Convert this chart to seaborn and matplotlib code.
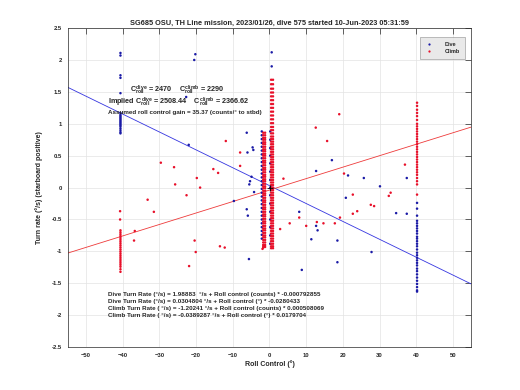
import numpy as np
import pandas as pd
import matplotlib
matplotlib.use("Agg")
import matplotlib.pyplot as plt
import seaborn as sns

sns.set_theme(style="white")
plt.rcParams['font.family'] = ['Liberation Sans', 'DejaVu Sans']
plt.rcParams['mathtext.fontset'] = 'custom'
plt.rcParams['mathtext.rm'] = 'Liberation Sans:bold'
plt.rcParams['mathtext.it'] = 'Liberation Sans:bold'
plt.rcParams['mathtext.bf'] = 'Liberation Sans:bold'

# ---------------- data ----------------
dive_x = [-20.2, -20.5, -22.7, -22.0, 0.6, 0.6, -6.2, -4.6, -4.4, -6.0, -4.9, -5.3, -5.5, -4.2,
          12.7, -9.7, -6.2, -5.9, -5.6, 8.1, 8.8, 12.7, 13.1, 11.4,
          17.0, 21.4, 25.7, 30.1, 37.4, 20.8, 34.5, 37.4, 18.5, 18.5, 27.8]
dive_y = [2.09, 2.00, 1.42, 0.67, 2.12, 1.90, 0.86, 0.63, 0.59, 0.55, 0.17, 0.10, 0.05, -0.07,
          0.26, -0.21, -0.34, -0.44, -1.12, -0.38, -1.29, -0.60, -0.67, -0.81,
          0.43, 0.19, 0.15, 0.02, 0.15, -0.16, -0.40, -0.41, -0.83, -1.17, -1.01]
dive_m40_y = [2.11, 2.07, 1.76, 1.72, 1.48, 1.17, 1.14, 1.12, 1.10, 1.08, 1.06, 1.04, 1.02,
              1.00, 0.98, 0.96, 0.93, 0.90, 0.87, 0.85]
dive_p40_y = [-0.24, -0.33, -0.44, -0.52, -0.56, -0.60, -0.64, -0.68, -0.72, -0.77, -0.80,
              -0.84, -0.88, -0.92, -0.97, -1.02, -1.06, -1.10, -1.14, -1.18, -1.22, -1.27,
              -1.31, -1.36, -1.41, -1.46, -1.51, -1.56, -1.61, -1.63]
dive_lbar_y = [0.88, 0.82, 0.76, 0.70, 0.64, 0.58, 0.52, 0.46, 0.40, 0.34, 0.28, 0.22, 0.16,
               0.10, 0.04, -0.02, -0.08, -0.14, -0.20, -0.26, -0.32, -0.38, -0.44, -0.50,
               -0.56, -0.62, -0.68, -0.74, -0.80]
dive_rbar_y = [0.88, 0.75, 0.62, 0.50, 0.38, 0.25, 0.12, 0.00, -0.12, -0.25, -0.38, -0.50,
               -0.62, -0.75, -0.88]

climb_x = [-29.6, -26.0, -19.8, -25.7, -18.9, -15.3, -14.0, -22.6, -33.2, -31.5, -40.7, -40.7,
           -36.7, -36.9, -20.4, -20.1, -21.9, -13.5, -12.2, -11.9, 15.7, -8.0, -8.0, 3.8,
           12.6, 19.0, 20.3, 36.9, 22.7, 33.0, 32.5, 27.6, 28.5, 22.7, 23.9, 14.7, 17.8,
           19.2, 8.1, 5.5, 2.9, 10.0, 12.9, 40.2, -1.7, -1.5, -1.9, -1.6]
climb_y = [0.39, 0.32, 0.15, 0.05, 0.00, 0.29, 0.23, -0.12, -0.19, -0.38, -0.37, -0.50,
           -0.68, -0.83, -0.83, -1.01, -1.23, -0.92, -0.94, 0.73, 0.73, 0.55, 0.34, 0.14,
           0.94, 1.15, 0.22, 0.36, -0.11, -0.08, -0.13, -0.27, -0.29, -0.41, -0.37, -0.56,
           -0.56, -0.47, -0.47, -0.56, -0.65, -0.60, -0.54, -0.11, -0.94, -0.92, -0.96, -0.90]
climb_m40_y = [-0.67, -0.70, -0.73, -0.76, -0.79, -0.82, -0.85, -0.88, -0.91, -0.94, -0.97,
               -1.00, -1.03, -1.06, -1.09, -1.12, -1.15, -1.18, -1.21, -1.24, -1.28, -1.32]
climb_p40_y = [1.33, 1.28, 1.22, 1.17, 1.12, 1.06, 1.00, 0.96, 0.92, 0.88, 0.84, 0.80, 0.76,
               0.72, 0.68, 0.64, 0.60, 0.56, 0.52, 0.48, 0.44, 0.40, 0.36, 0.32, 0.28, 0.24,
               0.20, 0.15, 0.10, 0.05]
climb_lbar_y = [0.86, 0.82, 0.78, 0.75, 0.71, 0.68, 0.64, 0.60, 0.57, 0.53, 0.50, 0.46, 0.42,
                0.39, 0.35, 0.31, 0.28, 0.24, 0.20, 0.17, 0.13, 0.10, 0.06, 0.02, -0.01,
                -0.05, -0.09, -0.12, -0.16, -0.20, -0.23, -0.27, -0.31, -0.34, -0.38, -0.42,
                -0.45, -0.49, -0.53, -0.56, -0.60, -0.64, -0.67, -0.71, -0.75, -0.78, -0.82,
                -0.86, -0.90, -0.93]
climb_rbar_y = [1.69, 1.62, 1.55, 1.49, 1.43, 1.37, 1.31, 1.25, 1.19, 1.13, 1.07, 1.01, 0.95,
                0.90, 0.85, 0.80, 0.76, 0.72, 0.68, 0.64, 0.60, 0.56, 0.52, 0.48, 0.44, 0.40,
                0.36, 0.32, 0.28, 0.24, 0.20, 0.16, 0.12, 0.08, 0.04, 0.00, -0.04, -0.08,
                -0.12, -0.16, -0.20, -0.24, -0.28, -0.32, -0.36, -0.40, -0.44, -0.48, -0.52,
                -0.56, -0.60, -0.64, -0.68, -0.72, -0.76, -0.80, -0.84, -0.88, -0.92, -0.95]
origin_x = [0.1]
origin_y = [0.0]

# column x positions
x_m40_dive, x_p40_dive = [-40.6], [40.2]
x_lbar_dive, x_rbar_dive = [-2.1], [0.2]
x_m40_climb, x_p40_climb = [-40.6], [40.2]
x_lbar_climb = [-1.7, -1.2]
x_rbar_climb = [0.45, 0.95]

# fit coefficients (deg)
dive_b0, dive_b1 = 0.0304804, -0.0280433
climb_b0, climb_b1 = -0.0389287, 0.0179704
line_x = [-55, 55]

x_ticks = [-50, -40, -30, -20, -10, 0, 10, 20, 30, 40, 50]
y_ticks = [-2.5, -2, -1.5, -1, -0.5, 0, 0.5, 1, 1.5, 2, 2.5]
y_ticklabels = ["-2.5", "-2", "-1.5", "-1", "-0.5", "0", "0.5", "1", "1.5", "2", "2.5"]

# ---------------- assemble ----------------
def col(xs, ys):
    ox, oy = [], []
    for xv in xs:
        ox += [xv] * len(ys)
        oy += list(ys)
    return ox, oy

def build(scat_x, scat_y, groups):
    X, Y = list(scat_x), list(scat_y)
    for xs, ys in groups:
        a, b = col(xs, ys)
        X += a
        Y += b
    return X, Y

dx, dy = build(dive_x, dive_y, [(x_m40_dive, dive_m40_y), (x_p40_dive, dive_p40_y),
                                (x_lbar_dive, dive_lbar_y), (x_rbar_dive, dive_rbar_y)])
cx, cy = build(climb_x, climb_y, [(x_m40_climb, climb_m40_y), (x_p40_climb, climb_p40_y),
                                  (x_lbar_climb, climb_lbar_y), (x_rbar_climb, climb_rbar_y)])

df = pd.DataFrame({"x": dx + cx, "y": dy + cy,
                   "phase": ["Dive"] * len(dx) + ["Climb"] * len(cx)})

lines = pd.DataFrame({
    "x": line_x + line_x,
    "y": [dive_b0 + dive_b1 * v for v in line_x] + [climb_b0 + climb_b1 * v for v in line_x],
    "phase": ["Dive", "Dive", "Climb", "Climb"]})

# ---------------- plot ----------------
fig = plt.figure(figsize=(5.2, 3.9), dpi=100)
ax = fig.add_axes([0.13, 0.11, 0.7765, 0.818])

sns.scatterplot(data=df, x="x", y="y", hue="phase",
                palette={"Dive": "#1a1aa6", "Climb": "#e8102a"},
                s=3.2, linewidth=0, marker="o", ax=ax, legend=True, zorder=3)
sns.lineplot(data=lines, x="x", y="y", hue="phase",
             palette={"Dive": "#3535e0", "Climb": "#ee3a3a"},
             linewidth=0.6, ax=ax, legend=False, zorder=2)
ax.scatter(origin_x, origin_y, marker="+", s=14, color="black", linewidths=0.6, zorder=4)

ax.set_xlim(-55, 55)
ax.set_ylim(-2.5, 2.5)
ax.set_xticks(x_ticks)
ax.set_yticks(y_ticks)
ax.set_yticklabels(y_ticklabels)
ax.grid(True, color="#e3e3e3", linewidth=0.5)
ax.set_axisbelow(True)
ax.tick_params(direction="in", length=4, width=0.5, labelsize=4.2, colors="#262626",
               top=True, right=True, pad=4)
for lab in ax.get_xticklabels() + ax.get_yticklabels():
    lab.set_fontweight("bold")
for sp in ax.spines.values():
    sp.set_color("#262626")
    sp.set_linewidth(0.5)

ax.set_xlabel("Roll Control (°)", fontsize=5, fontweight="bold", labelpad=2)
ax.set_ylabel("Turn rate (°/s) (starboard positive)", fontsize=5, fontweight="bold", labelpad=6)
ax.set_title("SG685 OSU, TH Line mission, 2023/01/26, dive 575 started 10-Jun-2023 05:31:59",
             fontsize=5.3, fontweight="bold", pad=2)

leg = ax.legend(loc="upper right", fontsize=4, frameon=True, facecolor="#e4e4e4",
                edgecolor="#8c8c8c", borderpad=0.9, handletextpad=2.2, markerscale=0.9,
                handlelength=1.5, labelspacing=0.35, borderaxespad=0.0,
                bbox_to_anchor=(0.985, 0.972), title=None, fancybox=False)
leg.get_frame().set_linewidth(0.5)
for t in leg.get_texts():
    t.set_fontweight("bold")

tk = dict(fontsize=5.2, fontweight="bold", color="#262626", va="center")
ax.text(-37.9, 1.53, r"$C^{dive}_{roll}$ = 2470", **tk)
ax.text(-24.6, 1.53, r"$C^{climb}_{roll}$ = 2290", **tk)
ax.text(-44.0, 1.34, r"Implied $C^{dive}_{roll}$ = 2508.44    $C^{climb}_{roll}$ = 2366.62", **tk)
ax.text(-44.0, 1.18, "Assumed roll control gain = 35.37 (counts/° to stbd)", fontsize=4.5,
        fontweight="bold", color="#262626", va="center")

bt = dict(fontsize=4.5, fontweight="bold", color="#262626", va="center")
ax.text(-44.0, -1.67, "Dive Turn Rate (°/s) = 1.98883  °/s + Roll control (counts) * -0.000792855", **bt)
ax.text(-44.0, -1.785, "Dive Turn Rate (°/s) = 0.0304804 °/s + Roll control (°) * -0.0280433", **bt)
ax.text(-44.0, -1.895, "Climb Turn Rate ( °/s) = -1.20241 °/s + Roll control (counts) * 0.000508069", **bt)
ax.text(-44.0, -2.005, "Climb Turn Rate ( °/s) = -0.0389287 °/s + Roll control (°) * 0.0179704", **bt)

fig.savefig("out.png", dpi=100)
